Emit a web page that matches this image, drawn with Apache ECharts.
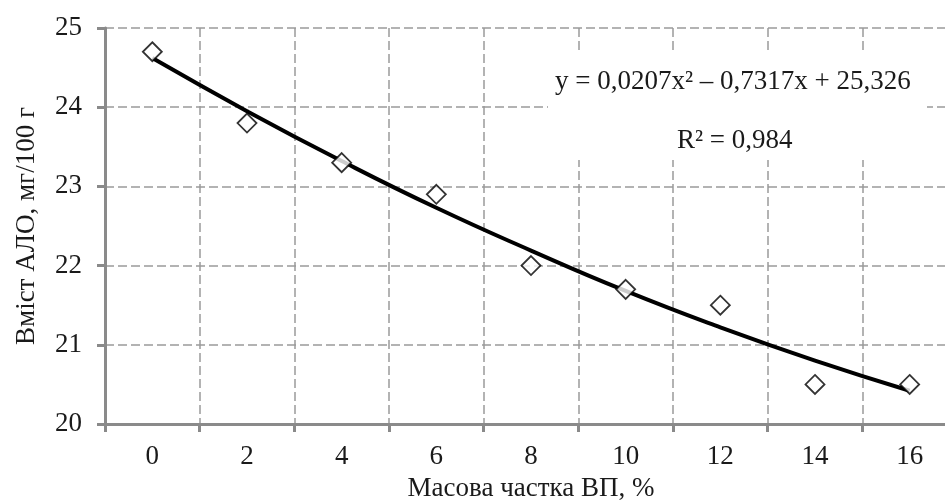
<!DOCTYPE html>
<html>
<head>
<meta charset="utf-8">
<script src="https://cdn.jsdelivr.net/npm/echarts@6/dist/echarts.min.js"></script>
<style>html,body{margin:0;padding:0;background:#fff;overflow:hidden;}#c{width:945px;height:501px;}</style>
</head>
<body>
<div id="c"></div>
<script>
const categories = ['0','2','4','6','8','10','12','14','16'];
const measured = [24.7, 23.8, 23.3, 22.9, 22.0, 21.7, 21.5, 20.5, 20.5];
const trend = [24.62, 23.95, 23.32, 22.73, 22.19, 21.68, 21.22, 20.80, 20.42];
const yTicks = [20, 21, 22, 23, 24, 25];
const xTitle = 'Масова частка ВП, %';
const yTitle = 'Вміст АЛО, мг/100 г';
const eqText = 'y = 0,0207x² – 0,7317x + 25,326';
const r2Text = 'R² = 0,984';

const font = '"Liberation Serif", "Times New Roman", serif';
const txt = '#1a1a1a';
const chart = echarts.init(document.getElementById('c'), null, {renderer: 'canvas'});
chart.setOption({
  animation: false,
  backgroundColor: '#fff',
  grid: {left: 105, top: 28, width: 852, bottom: 77, containLabel: false, outerBoundsMode: 'none'},
  xAxis: {
    type: 'category',
    data: categories,
    boundaryGap: true,
    name: xTitle,
    nameLocation: 'middle',
    nameGap: 51,
    nameTextStyle: {fontFamily: font, fontSize: 27, color: txt},
    axisLine: {lineStyle: {color: '#8a8a8a', width: 3}},
    axisTick: {show: true, length: 8, lineStyle: {color: '#8a8a8a', width: 3}},
    axisLabel: {fontFamily: font, fontSize: 27, color: txt, margin: 19},
    splitLine: {show: true, lineStyle: {color: '#9a9a9a', type: [9, 4], width: 1.5}}
  },
  yAxis: {
    type: 'value',
    min: yTicks[0],
    max: yTicks[yTicks.length - 1],
    interval: 1,
    name: yTitle,
    nameLocation: 'middle',
    nameGap: 65,
    nameTextStyle: {fontFamily: font, fontSize: 27, color: txt},
    axisLine: {show: true, lineStyle: {color: '#8a8a8a', width: 3}},
    axisTick: {show: true, length: 8, lineStyle: {color: '#8a8a8a', width: 3}},
    axisLabel: {fontFamily: font, fontSize: 27, color: txt, margin: 23},
    splitLine: {show: true, lineStyle: {color: '#9a9a9a', type: [9, 4], width: 1.5}}
  },
  series: [
    {
      type: 'line',
      data: trend,
      smooth: true,
      symbol: 'none',
      lineStyle: {color: '#000', width: 4},
      z: 2
    },
    {
      type: 'scatter',
      data: measured,
      symbol: 'diamond',
      symbolSize: [19, 19],
      itemStyle: {color: '#fff', borderColor: '#000', borderWidth: 1.8},
      z: 3
    }
  ],
  graphic: [
    {type: 'rect', z: 9, shape: {x: 548, y: 50, width: 379, height: 110}, style: {fill: '#fff'}},
    {type: 'text', z: 10, x: 555, y: 82,
     style: {text: eqText, font: '27px ' + font, fill: txt, align: 'left', verticalAlign: 'middle'}},
    {type: 'text', z: 10, x: 677, y: 141,
     style: {text: r2Text, font: '27px ' + font, fill: txt, align: 'left', verticalAlign: 'middle'}}
  ]
});
</script>
</body>
</html>
